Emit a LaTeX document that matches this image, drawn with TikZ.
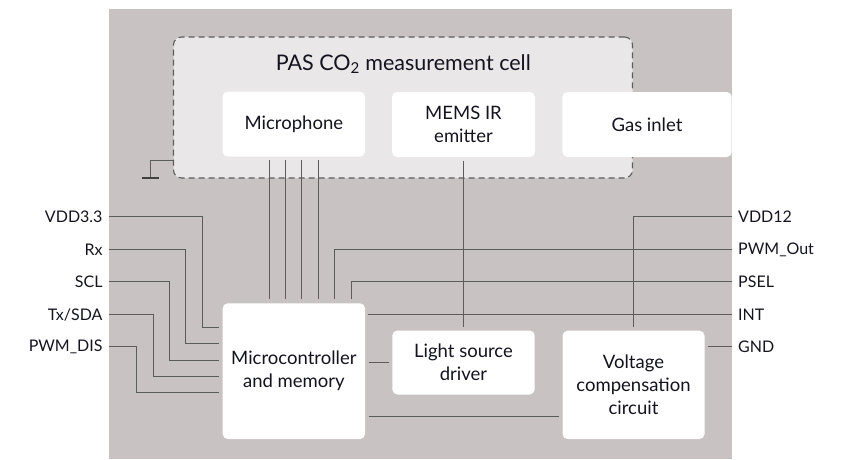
\documentclass[tikz,border=0pt]{standalone}
\usepackage{fontspec}
\setmainfont{Lato}
\definecolor{bgc}{HTML}{C9C2C2}
\definecolor{cellc}{HTML}{E9E7E8}
\definecolor{wirec}{HTML}{5C5C5C}
\definecolor{txtc}{HTML}{14141F}
\begin{document}
\begin{tikzpicture}[x=1pt,y=-1pt,
  box/.style={fill=white, rounded corners=5pt, align=center, text=txtc,
    font=\fontsize{18.5}{23}\selectfont, inner sep=0pt},
  wire/.style={draw=wirec, line width=1.2pt},
  lbl/.style={text=txtc, font=\fontsize{16}{20}\selectfont, inner ysep=0pt, inner xsep=6pt}
]
\useasboundingbox (0,0) rectangle (841,459);
\fill[bgc] (108.7,9.3) rectangle (732,459);

% measurement cell
\node[draw=wirec, dashed, dash pattern=on 6pt off 4pt, line width=1.1pt, fill=cellc,
  rounded corners=8pt, minimum width=459pt, minimum height=141pt, inner sep=0pt]
  (cell) at (403,107.5) {};
\node[text=txtc, font=\fontsize{21.5}{26}\selectfont, inner sep=0pt] (title) at (403.3,64)
  {PAS CO\textsubscript{2} measurement cell};

% boxes
\node[box, minimum width=142.3pt, minimum height=65pt] (mic) at (293.85,124.2) {Microphone};
\node[box, minimum width=143pt, minimum height=65pt] (mems) at (463.5,124.5) {MEMS IR\\emitter};
\node[box, minimum width=169.4pt, minimum height=65pt] (gas) at (647,124.5) {Gas inlet};
\node[box, minimum width=142.3pt, minimum height=135.7pt] (mcu) at (293.85,371.15) {Microcontroller\\and memory};
\node[box, minimum width=142.4pt, minimum height=64pt] (lsd) at (463.5,362.5) {Light source\\driver};
\node[box, minimum width=142pt, minimum height=108.3pt] (vcc) at (633.5,384.85) {Voltage\\compensation\\circuit};

% ground symbol
\coordinate (gnda) at (150.5,160.5);
\coordinate (gndb) at (150.5,177.5);
\draw[wire] (cell.west |- gnda) -- (gnda) -- (gndb);
\draw[draw=wirec!70!black, line width=2pt] ([xshift=-8.3pt]gndb) -- ([xshift=8.3pt]gndb);

% left labels
\node[lbl, anchor=east] (l1) at (108.7,216.5) {VDD3.3};
\node[lbl, anchor=east] (l2) at (108.7,249.5) {Rx};
\node[lbl, anchor=east] (l3) at (108.7,281.5) {SCL};
\node[lbl, anchor=east] (l4) at (108.7,314.5) {Tx/SDA};
\node[lbl, anchor=east] (l5) at (108.7,346.5) {PWM\_DIS};

% right labels
\node[lbl, anchor=west] (r1) at (732,216.5) {VDD12};
\node[lbl, anchor=west] (r2) at (732,249.5) {PWM\_Out};
\node[lbl, anchor=west] (r3) at (732,281.5) {PSEL};
\node[lbl, anchor=west] (r4) at (732,314.5) {INT};
\node[lbl, anchor=west] (r5) at (732,346.5) {GND};

% microphone to mcu
\foreach \x in {269.5,285.5,301.5,318.5}
  \draw[wire, shorten <=3.5pt, shorten >=3.8pt] (mic.south -| \x,0) -- (mcu.north -| \x,0);

% mems to light source driver
\draw[wire, shorten <=3.5pt, shorten >=3.8pt] (mems.south) -- (lsd.north -| mems.south);

% mcu to light source driver
\draw[wire, shorten <=3.4pt, shorten >=3.1pt] (mcu.east |- lsd.west) -- (lsd.west);
% mcu to voltage compensation
\draw[wire, shorten <=3.4pt, shorten >=3.3pt] (mcu.east |- 0,416.5) -- (vcc.west |- 0,416.5);

% left wires
\draw[wire, shorten >=3.4pt] (l1.east) -| (202.5,327.5) -- (mcu.west |- 0,327.5);
\draw[wire, shorten >=3.4pt] (l2.east) -| (185.5,343.5) -- (mcu.west |- 0,343.5);
\draw[wire, shorten >=3.4pt] (l3.east) -| (169.5,360.5) -- (mcu.west |- 0,360.5);
\draw[wire, shorten >=3.4pt] (l4.east) -| (153.5,376.5) -- (mcu.west |- 0,376.5);
\draw[wire, shorten >=3.4pt] (l5.east) -| (136.5,392.5) -- (mcu.west |- 0,392.5);

% right wires
\draw[wire, shorten >=3.4pt] (r1.west) -| (vcc.north);
\draw[wire, shorten >=4pt] (r2.west) -| (mcu.north -| 334.5,0);
\draw[wire, shorten >=4pt] (r3.west) -| (mcu.north -| 351.5,0);
\draw[wire, shorten >=3pt] (r4.west) -- (mcu.east |- r4.west);
\draw[wire, shorten >=3.4pt] (r5.west) -- (vcc.east |- r5.west);
\end{tikzpicture}
\end{document}
